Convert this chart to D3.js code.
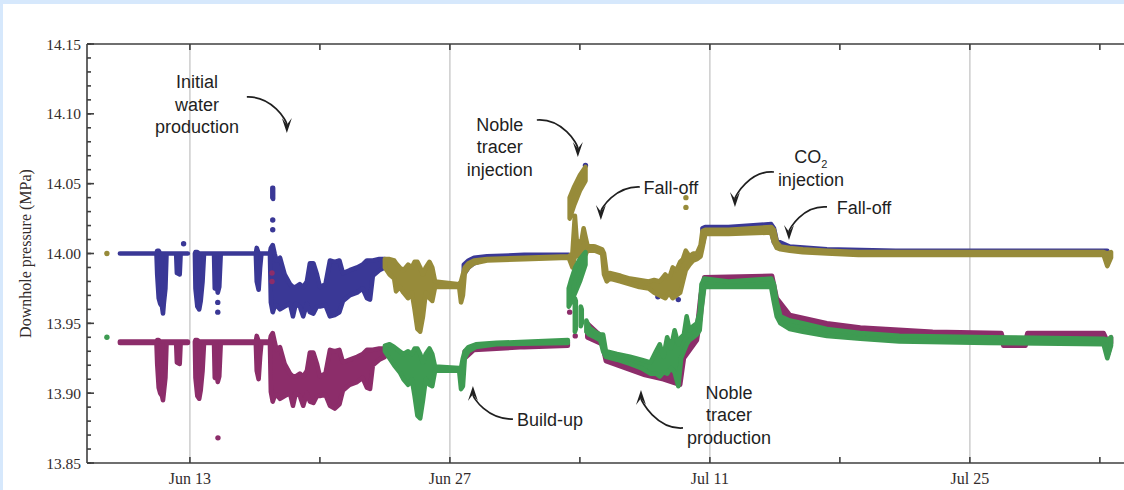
<!DOCTYPE html>
<html>
<head>
<meta charset="utf-8">
<script src="https://cdn.jsdelivr.net/npm/d3@7"></script>
<style>
  html, body { margin: 0; padding: 0; background: #d6e8fc; }
  svg { display: block; }
</style>
</head>
<body>
<svg id="chart" width="1124" height="490"></svg>
<script>
// Time is stored as fractional days after 1 June 2011 (t = 12 -> Jun 13, t = 40 -> Jul 11).
// Each trace entry is [t, upper MPa, lower MPa] : the spread of the logged points at that time.
// null breaks a trace where no data were logged.

// Upper gauge, first logging period
const blueTrace = [
  [8.23, 14.000, 14.000], [10.20, 14.000, 14.000], [10.24, 14.002, 13.985], [10.32, 14.002, 13.968],
  [10.40, 14.000, 13.964], [10.50, 14.000, 13.962], [10.55, 14.000, 13.957], [10.60, 14.000, 13.965],
  [10.68, 14.000, 13.975], [10.74, 14.000, 14.000], [11.26, 14.000, 14.000], [11.30, 14.000, 13.986],
  [11.45, 14.000, 13.985], [11.50, 14.000, 14.000], [11.89, 14.000, 14.000],
  null,
  [12.27, 14.000, 14.000], [12.30, 14.001, 13.975], [12.40, 14.001, 13.962], [12.50, 14.000, 13.960],
  [12.58, 14.000, 13.966], [12.68, 14.000, 13.980], [12.76, 14.000, 14.000], [13.30, 14.000, 14.000],
  [13.34, 14.000, 13.975], [13.44, 14.000, 13.978], [13.50, 14.000, 13.972], [13.58, 14.000, 13.976],
  [13.66, 14.000, 14.000], [15.55, 14.000, 14.000], [15.60, 14.004, 13.980], [15.70, 14.000, 13.974],
  [15.78, 14.000, 13.990], [15.85, 14.000, 14.000], [16.31, 14.000, 14.000], [16.36, 14.004, 13.965],
  [16.46, 14.006, 13.958], [16.56, 14.000, 13.962], [16.66, 13.995, 13.963], [16.85, 13.997, 13.960],
  [17.10, 13.985, 13.962], [17.39, 13.978, 13.964], [17.55, 13.976, 13.955], [17.70, 13.976, 13.964],
  [17.92, 13.978, 13.962], [18.10, 13.976, 13.955], [18.30, 13.980, 13.964], [18.46, 13.993, 13.958],
  [18.65, 13.993, 13.957], [18.84, 13.985, 13.962], [19.00, 13.976, 13.962], [19.30, 13.978, 13.963],
  [19.54, 13.995, 13.955], [19.80, 13.994, 13.956], [20.05, 13.995, 13.958], [20.24, 13.986, 13.966],
  [20.60, 13.988, 13.970], [21.00, 13.990, 13.972], [21.30, 13.992, 13.975], [21.53, 13.995, 13.968],
  [21.70, 13.995, 13.967], [21.85, 13.995, 13.984], [22.20, 13.996, 13.988], [22.50, 13.996, 13.990],
  null,
  [16.44, 14.047, 14.040], [16.48, 14.047, 14.039],
  null,
  [26.75, 13.992, 13.985], [27.00, 13.995, 13.990], [27.30, 13.997, 13.993], [28.00, 13.998, 13.996],
  [30.00, 13.999, 13.997], [32.40, 13.999, 13.997],
  null,
  [39.60, 14.018, 14.006], [39.75, 14.019, 14.015], [41.00, 14.019, 14.015], [43.30, 14.021, 14.016],
  [43.45, 14.018, 14.008], [43.60, 14.009, 14.005], [44.30, 14.005, 14.003], [46.30, 14.003, 14.001],
  [50.00, 14.002, 14.000], [61.40, 14.002, 14.000]
];
const blueDots = [[11.66, 14.007], [13.50, 13.965], [13.50, 13.958], [16.46, 14.024], [16.46, 14.017],
  [33.30, 14.063], [32.75, 14.010], [37.20, 13.969], [38.30, 13.967]];

// Lower gauge, first logging period
const purpleTrace = [
  [8.23, 13.937, 13.936], [10.20, 13.937, 13.936], [10.24, 13.938, 13.921], [10.32, 13.938, 13.904],
  [10.40, 13.937, 13.900], [10.50, 13.937, 13.898], [10.55, 13.937, 13.895], [10.60, 13.937, 13.901],
  [10.68, 13.937, 13.911], [10.74, 13.937, 13.936], [11.26, 13.937, 13.936], [11.30, 13.937, 13.922],
  [11.45, 13.937, 13.921], [11.50, 13.937, 13.936], [11.89, 13.937, 13.936],
  null,
  [12.27, 13.937, 13.936], [12.30, 13.938, 13.911], [12.40, 13.938, 13.898], [12.50, 13.937, 13.896],
  [12.58, 13.937, 13.902], [12.68, 13.937, 13.916], [12.76, 13.937, 13.936], [13.30, 13.937, 13.936],
  [13.34, 13.937, 13.911], [13.44, 13.937, 13.914], [13.50, 13.937, 13.908], [13.58, 13.937, 13.912],
  [13.66, 13.937, 13.936], [15.55, 13.937, 13.936], [15.60, 13.941, 13.916], [15.70, 13.937, 13.910],
  [15.78, 13.937, 13.926], [15.85, 13.937, 13.936], [16.31, 13.937, 13.936], [16.36, 13.941, 13.901],
  [16.46, 13.943, 13.894], [16.56, 13.937, 13.898], [16.66, 13.931, 13.899], [16.85, 13.933, 13.896],
  [17.10, 13.921, 13.898], [17.39, 13.914, 13.900], [17.55, 13.912, 13.891], [17.70, 13.912, 13.900],
  [17.92, 13.914, 13.898], [18.10, 13.912, 13.891], [18.30, 13.916, 13.900], [18.46, 13.929, 13.894],
  [18.65, 13.929, 13.893], [18.84, 13.921, 13.898], [19.00, 13.912, 13.898], [19.30, 13.914, 13.899],
  [19.54, 13.931, 13.891], [19.80, 13.930, 13.889], [20.05, 13.931, 13.892], [20.24, 13.922, 13.902],
  [20.60, 13.924, 13.906], [21.00, 13.926, 13.908], [21.30, 13.928, 13.911], [21.53, 13.931, 13.904],
  [21.70, 13.931, 13.903], [21.85, 13.931, 13.920], [22.20, 13.932, 13.924], [22.50, 13.932, 13.926],
  null,
  [26.80, 13.930, 13.925], [27.30, 13.933, 13.931], [30.00, 13.934, 13.933], [32.35, 13.936, 13.934],
  null,
  [33.40, 13.950, 13.940], [34.20, 13.940, 13.935], [34.40, 13.928, 13.923], [36.50, 13.920, 13.913],
  [37.50, 13.918, 13.910], [38.40, 13.920, 13.906], [38.60, 13.935, 13.925], [39.30, 13.945, 13.938],
  [39.50, 13.970, 13.955], [39.70, 13.983, 13.980], [43.35, 13.984, 13.980], [43.60, 13.968, 13.960],
  [44.30, 13.956, 13.950], [46.30, 13.950, 13.946], [48.10, 13.947, 13.944], [52.00, 13.944, 13.942],
  [55.70, 13.943, 13.941], [55.80, 13.938, 13.934], [57.00, 13.938, 13.934], [57.10, 13.943, 13.941],
  [61.20, 13.943, 13.940], [61.45, 13.936, 13.928], [61.60, 13.940, 13.936]
];
const purpleDots = [[13.51, 13.868], [16.42, 13.986], [16.42, 13.980], [32.45, 13.958], [32.75, 13.941]];

// Upper gauge, second logging period
const oliveTrace = [
  [22.50, 13.996, 13.990], [22.75, 13.996, 13.985], [23.00, 13.995, 13.982], [23.10, 13.993, 13.973],
  [23.30, 13.990, 13.976], [23.50, 13.988, 13.972], [23.75, 13.992, 13.968], [23.95, 13.990, 13.972],
  [24.10, 13.994, 13.960], [24.25, 13.994, 13.946], [24.40, 13.990, 13.944], [24.55, 13.985, 13.955],
  [24.70, 13.990, 13.972], [24.90, 13.994, 13.968], [25.05, 13.990, 13.966], [25.20, 13.980, 13.976],
  [26.50, 13.978, 13.976], [26.60, 13.980, 13.965], [26.70, 13.985, 13.970], [26.80, 13.990, 13.986],
  [27.00, 13.993, 13.990], [27.30, 13.995, 13.993], [28.00, 13.996, 13.995], [30.00, 13.997, 13.996],
  [32.40, 13.998, 13.997], [32.60, 14.000, 13.990], [32.73, 14.027, 13.998], [32.85, 14.005, 13.998],
  [33.10, 14.010, 13.998], [33.20, 14.018, 13.999], [33.30, 14.012, 13.999], [33.40, 14.006, 14.002],
  [33.80, 14.005, 14.002], [34.20, 14.003, 14.000], [34.30, 14.000, 13.985], [34.45, 13.985, 13.980],
  [34.60, 13.986, 13.982], [35.20, 13.984, 13.980], [35.70, 13.982, 13.978], [36.20, 13.981, 13.976],
  [36.70, 13.980, 13.975], [37.00, 13.981, 13.972], [37.30, 13.980, 13.970], [37.60, 13.985, 13.968],
  [37.80, 13.982, 13.972], [38.00, 13.990, 13.968], [38.20, 13.988, 13.970], [38.40, 13.994, 13.972],
  [38.55, 13.996, 13.980], [38.70, 14.002, 13.988], [38.90, 13.998, 13.992], [39.10, 14.000, 13.995],
  [39.30, 14.000, 13.996], [39.50, 14.006, 13.998], [39.60, 14.016, 14.004], [39.75, 14.017, 14.014],
  [41.00, 14.017, 14.014], [43.30, 14.019, 14.015], [43.45, 14.017, 14.008], [43.60, 14.008, 14.004],
  [43.80, 14.005, 14.003], [44.30, 14.004, 14.002], [45.00, 14.003, 14.001], [46.30, 14.002, 14.000],
  [48.00, 14.001, 13.999], [55.00, 14.001, 13.999], [61.20, 14.001, 13.999], [61.40, 14.000, 13.991],
  [61.60, 14.001, 13.997],
  null,
  [32.45, 14.040, 14.025], [32.70, 14.048, 14.035], [33.00, 14.056, 14.045], [33.30, 14.062, 14.052]
];
const oliveDots = [[7.53, 14.000], [38.71, 14.040], [38.71, 14.033]];

// Lower gauge, second logging period
const greenTrace = [
  [22.50, 13.934, 13.930], [22.75, 13.935, 13.925], [23.00, 13.933, 13.920], [23.30, 13.930, 13.915],
  [23.50, 13.928, 13.910], [23.75, 13.930, 13.906], [23.95, 13.928, 13.910], [24.10, 13.932, 13.898],
  [24.25, 13.932, 13.884], [24.40, 13.928, 13.882], [24.55, 13.922, 13.895], [24.70, 13.928, 13.910],
  [24.90, 13.932, 13.906], [25.05, 13.928, 13.905], [25.20, 13.919, 13.916], [26.50, 13.918, 13.916],
  [26.60, 13.918, 13.903], [26.70, 13.925, 13.905], [26.80, 13.930, 13.925], [27.00, 13.933, 13.930],
  [27.40, 13.935, 13.933], [28.50, 13.936, 13.935], [32.35, 13.938, 13.936],
  null,
  [32.40, 13.975, 13.962], [32.55, 13.982, 13.966], [32.75, 13.990, 13.972], [33.00, 13.996, 13.980],
  [33.30, 14.001, 13.992],
  null,
  [32.73, 13.968, 13.944], [32.78, 13.966, 13.946],
  null,
  [33.05, 13.962, 13.948], [33.10, 13.960, 13.950],
  null,
  [33.35, 13.952, 13.944], [33.50, 13.947, 13.942], [33.80, 13.944, 13.940], [34.10, 13.942, 13.938],
  [34.25, 13.942, 13.930], [34.40, 13.930, 13.926], [35.00, 13.928, 13.924], [35.70, 13.926, 13.921],
  [36.30, 13.924, 13.918], [36.80, 13.922, 13.914], [37.10, 13.930, 13.914], [37.30, 13.935, 13.912],
  [37.50, 13.926, 13.915], [37.70, 13.940, 13.914], [37.90, 13.932, 13.918], [38.10, 13.945, 13.915],
  [38.30, 13.935, 13.905], [38.45, 13.940, 13.925], [38.60, 13.942, 13.930], [38.75, 13.955, 13.935],
  [38.90, 13.945, 13.938], [39.10, 13.948, 13.940], [39.30, 13.950, 13.942], [39.45, 13.958, 13.945],
  [39.55, 13.978, 13.960], [39.70, 13.982, 13.976], [41.00, 13.980, 13.976], [43.30, 13.982, 13.976],
  [43.45, 13.978, 13.965], [43.60, 13.965, 13.955], [43.80, 13.955, 13.950], [44.30, 13.952, 13.946],
  [45.00, 13.950, 13.944], [46.30, 13.946, 13.941], [48.10, 13.943, 13.939], [50.20, 13.941, 13.937],
  [55.00, 13.940, 13.936], [61.20, 13.939, 13.935], [61.40, 13.938, 13.925], [61.60, 13.940, 13.934]
];
const greenDots = [[7.53, 13.940]];

// Axis ticks
const yMajorTicks = [13.85, 13.90, 13.95, 14.00, 14.05, 14.10, 14.15];
const yMinorTicks = d3.range(13.85, 14.1501, 0.01);
const xLabelDays = [12, 26, 40, 54];          // Jun 13, Jun 27, Jul 11, Jul 25
const xWeekDays  = [12, 19, 26, 33, 40, 47, 54, 61];

const series = [
  { name: "upper gauge (run 1)", color: "#3a3896", trace: blueTrace,   dots: blueDots },
  { name: "lower gauge (run 1)", color: "#8c2d6a", trace: purpleTrace, dots: purpleDots },
  { name: "upper gauge (run 2)", color: "#978b3a", trace: oliveTrace,  dots: oliveDots },
  { name: "lower gauge (run 2)", color: "#3e9b52", trace: greenTrace,  dots: greenDots }
];

const BASE = Date.UTC(2011, 5, 1);
const toDate = t => new Date(BASE + t * 864e5);

const W = 1124, H = 490;
const plot = { left: 87, top: 44, bottom: 463 };

const x = d3.scaleUtc()
  .domain([new Date(Date.UTC(2011, 5, 7, 11)), new Date(Date.UTC(2011, 7, 3))])
  .range([plot.left, 1137]);
const y = d3.scaleLinear().domain([13.85, 14.15]).range([plot.bottom, plot.top]);

const svg = d3.select("#chart");

// panel
svg.append("rect").attr("x", 3).attr("y", 4).attr("width", W).attr("height", H).attr("fill", "#ffffff");

// vertical grid lines at the labelled dates
svg.append("g").selectAll("line").data(xLabelDays).join("line")
  .attr("x1", d => x(toDate(d))).attr("x2", d => x(toDate(d)))
  .attr("y1", plot.top).attr("y2", plot.bottom)
  .attr("stroke", "#c9c9c9").attr("stroke-width", 1.4);

// data traces
const area = d3.area()
  .defined(d => d)
  .x(d => x(toDate(d[0])))
  .y0(d => y(d[2]))
  .y1(d => y(d[1]));

const gData = svg.append("g");
series.forEach(s => {
  const g = gData.append("g").attr("class", "series");
  g.append("path")
    .attr("d", area(s.trace))
    .attr("fill", s.color)
    .attr("stroke", s.color)
    .attr("stroke-width", 4.6)
    .attr("stroke-linejoin", "round");
  g.selectAll("circle").data(s.dots).join("circle")
    .attr("cx", d => x(toDate(d[0])))
    .attr("cy", d => y(d[1]))
    .attr("r", 2.7)
    .attr("fill", s.color);
});

// frame lines
const axisColor = "#3f3f3f";
const frame = svg.append("g").attr("stroke", axisColor).attr("stroke-width", 1.6).attr("fill", "none");
frame.append("line").attr("x1", plot.left).attr("x2", W).attr("y1", plot.top).attr("y2", plot.top);
frame.append("line").attr("x1", plot.left).attr("x2", W).attr("y1", plot.bottom).attr("y2", plot.bottom);
frame.append("line").attr("x1", plot.left).attr("x2", plot.left).attr("y1", plot.top).attr("y2", plot.bottom);

// weekly ticks on bottom and top edges
const ticks = svg.append("g").attr("stroke", axisColor).attr("stroke-width", 1.6);
xWeekDays.forEach(d => {
  const px = x(toDate(d));
  ticks.append("line").attr("x1", px).attr("x2", px).attr("y1", plot.bottom).attr("y2", plot.bottom - 6);
  ticks.append("line").attr("x1", px).attr("x2", px).attr("y1", plot.top).attr("y2", plot.top + 6);
});
// left axis ticks, pointing inward
yMinorTicks.forEach(v => {
  const py = y(v);
  ticks.append("line").attr("x1", plot.left).attr("x2", plot.left + 4).attr("y1", py).attr("y2", py);
});
yMajorTicks.forEach(v => {
  const py = y(v);
  ticks.append("line").attr("x1", plot.left).attr("x2", plot.left + 7).attr("y1", py).attr("y2", py);
});

const serif = "'Liberation Serif', 'Times New Roman', serif";
const labelColor = "#332c2c";

svg.append("g").selectAll("text").data(yMajorTicks).join("text")
  .attr("x", 81).attr("y", d => y(d) + 5.5)
  .attr("text-anchor", "end")
  .attr("font-family", serif).attr("font-size", 15.5).attr("fill", labelColor)
  .text(d => d3.format(".2f")(d));

svg.append("g").selectAll("text").data(xLabelDays).join("text")
  .attr("x", d => x(toDate(d))).attr("y", 483.5)
  .attr("text-anchor", "middle")
  .attr("font-family", serif).attr("font-size", 16).attr("fill", labelColor)
  .text(d => d3.utcFormat("%b %-d")(toDate(d)));

svg.append("text")
  .attr("transform", "translate(30.5," + y(14.0) + ") rotate(-90)")
  .attr("text-anchor", "middle")
  .attr("font-family", serif).attr("font-size", 16).attr("fill", labelColor)
  .text("Downhole pressure (MPa)");

// annotations: text blocks anchored at (t, MPa) of the first line centre
const sans = "'Liberation Sans', Arial, Helvetica, sans-serif";
const notes = [
  { t: 12.38, v: 14.1228, lines: ["Initial", "water", "production"] },
  { t: 28.69, v: 14.0927, lines: ["Noble", "tracer", "injection"] },
  { t: 37.90, v: 14.0469, lines: ["Fall-off"] },
  { t: 48.30, v: 14.0326, lines: ["Fall-off"] },
  { t: 31.39, v: 13.8815, lines: ["Build-up"] },
  { t: 41.03, v: 13.9008, lines: ["Noble", "tracer", "production"] }
];
const noteG = svg.append("g").attr("font-family", sans).attr("font-size", 18).attr("fill", "#1f1f1f")
  .attr("text-anchor", "middle");
notes.forEach(n => {
  const cx = x(toDate(n.t)), cy = y(n.v);
  n.lines.forEach((line, i) => {
    noteG.append("text").attr("x", cx).attr("y", cy + 6.5 + i * 22.5).text(line);
  });
});
// CO2 label with subscript
const co2x = x(toDate(45.44)), co2y = y(14.0691);
const co2 = noteG.append("text").attr("x", co2x).attr("y", co2y + 6.5);
co2.append("tspan").text("CO");
co2.append("tspan").attr("font-size", 11).attr("dy", 5).text("2");
noteG.append("text").attr("x", co2x).attr("y", co2y + 6.5 + 23).text("injection");

// curved arrows: tip at (t, MPa); curve given as pixel offsets from the tip
const arrows = [
  { t: 17.22, v: 14.0863, s: [-40, -36], c1: [-15, -37], c2: [0, -25] },
  { t: 32.89, v: 14.0691, s: [-41, -37], c1: [-16, -39], c2: [0, -27] },
  { t: 34.13, v: 14.0240, s: [39, -33],  c1: [14, -34],  c2: [0, -22] },
  { t: 41.35, v: 14.0333, s: [39, -35],  c1: [15, -37],  c2: [0, -22] },
  { t: 44.26, v: 14.0097, s: [38, -33],  c1: [14, -35],  c2: [0, -22] },
  { t: 27.24, v: 13.9051, s: [40, 33],   c1: [15, 34],   c2: [0, 24] },
  { t: 36.29, v: 13.9023, s: [42, 38],   c1: [16, 40],   c2: [0, 22] }
];
const arrowG = svg.append("g");
arrows.forEach(a => {
  const tx = x(toDate(a.t)), ty = y(a.v);
  const ang = Math.atan2(-a.c2[1], -a.c2[0]);      // direction of travel at the tip
  const L = 15, Wd = 10, notch = 0.55;
  const ux = Math.cos(ang), uy = Math.sin(ang);
  const nx = -uy, ny = ux;
  const bx = tx - ux * L * notch, by = ty - uy * L * notch;
  const p = d3.path();
  p.moveTo(tx + a.s[0], ty + a.s[1]);
  p.bezierCurveTo(tx + a.c1[0], ty + a.c1[1], tx + a.c2[0], ty + a.c2[1] * 0.5, bx, by);
  arrowG.append("path").attr("d", p.toString())
    .attr("fill", "none").attr("stroke", "#1f1f1f").attr("stroke-width", 1.7);
  const h = d3.path();
  h.moveTo(tx, ty);
  h.lineTo(tx - ux * L + nx * Wd / 2, ty - uy * L + ny * Wd / 2);
  h.lineTo(bx, by);
  h.lineTo(tx - ux * L - nx * Wd / 2, ty - uy * L - ny * Wd / 2);
  h.closePath();
  arrowG.append("path").attr("d", h.toString()).attr("fill", "#1f1f1f");
});
</script>
</body>
</html>
